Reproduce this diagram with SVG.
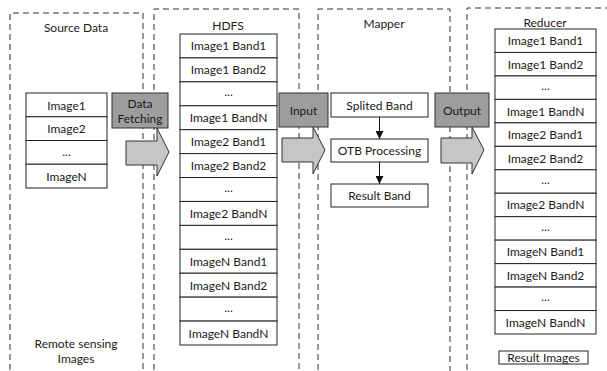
<svg xmlns="http://www.w3.org/2000/svg" width="607" height="371" viewBox="0 0 607 371">
  <style>
    text { font-family: Lato, "Open Sans", "Liberation Sans", sans-serif; font-size: 12px; fill: #1a1a1a; text-anchor: middle; dominant-baseline: central; }
    .zone { fill: none; stroke: #333; stroke-width: 1; stroke-dasharray: 6 4; }
    .cell { fill: #fff; stroke: #222; stroke-width: 1; }
    .tag { fill: #9d9d9d; stroke: #333; stroke-width: 1; }
    .flow { fill: #c6c6c6; stroke: #333; stroke-width: 1; }
    .link { stroke: #111; stroke-width: 1; fill: none; }
  </style>
  <defs>
    <marker id="tri" viewBox="0 0 10 10" refX="10" refY="5" markerWidth="8" markerHeight="8" markerUnits="userSpaceOnUse" orient="auto">
      <path d="M0,0 L10,5 L0,10 z" fill="#111"/>
    </marker>
  </defs>

  <rect width="607" height="371" fill="#fff"/>

  <!-- dashed zones, open at the bottom -->
  <g id="zones">
    <path class="zone" d="M10,380 V13 H143 V380"/>
    <path class="zone" d="M154,380 V9 H299 V380"/>
    <path class="zone" d="M318,380 V9 H450 V380"/>
    <path class="zone" d="M467,380 V8 H620"/>
  </g>

  <!-- Source Data -->
  <g id="source">
    <text x="76" y="27">Source Data</text>
    <rect class="cell" x="26" y="93" width="81" height="23.75"/>
    <rect class="cell" x="26" y="116.75" width="81" height="23.75"/>
    <rect class="cell" x="26" y="140.5" width="81" height="23.75"/>
    <rect class="cell" x="26" y="164.25" width="81" height="23.75"/>
    <text x="66.5" y="105">Image1</text>
    <text x="66.5" y="128.5">Image2</text>
    <text x="66.5" y="151">...</text>
    <text x="66.5" y="176">ImageN</text>
    <text x="76" y="343">Remote sensing</text>
    <text x="76" y="358">Images</text>
  </g>

  <!-- HDFS -->
  <g id="hdfs">
    <text x="228" y="25">HDFS</text>
    <g transform="translate(180,34)">
      <rect class="cell" x="0" y="0" width="97" height="23.92"/>
      <rect class="cell" x="0" y="23.92" width="97" height="23.92"/>
      <rect class="cell" x="0" y="47.85" width="97" height="23.92"/>
      <rect class="cell" x="0" y="71.77" width="97" height="23.92"/>
      <rect class="cell" x="0" y="95.69" width="97" height="23.92"/>
      <rect class="cell" x="0" y="119.62" width="97" height="23.92"/>
      <rect class="cell" x="0" y="143.54" width="97" height="23.92"/>
      <rect class="cell" x="0" y="167.46" width="97" height="23.92"/>
      <rect class="cell" x="0" y="191.38" width="97" height="23.92"/>
      <rect class="cell" x="0" y="215.31" width="97" height="23.92"/>
      <rect class="cell" x="0" y="239.23" width="97" height="23.92"/>
      <rect class="cell" x="0" y="263.15" width="97" height="23.92"/>
      <rect class="cell" x="0" y="287.08" width="97" height="23.92"/>
      <text x="48.5" y="11.96">Image1 Band1</text>
      <text x="48.5" y="35.88">Image1 Band2</text>
      <text x="48.5" y="57.8">...</text>
      <text x="48.5" y="83.73">Image1 BandN</text>
      <text x="48.5" y="107.65">Image2 Band1</text>
      <text x="48.5" y="131.58">Image2 Band2</text>
      <text x="48.5" y="153.5">...</text>
      <text x="48.5" y="179.42">Image2 BandN</text>
      <text x="48.5" y="201.35">...</text>
      <text x="48.5" y="227.27">ImageN Band1</text>
      <text x="48.5" y="251.19">ImageN Band2</text>
      <text x="48.5" y="273.1">...</text>
      <text x="48.5" y="299.04">ImageN BandN</text>
    </g>
  </g>

  <!-- Mapper -->
  <g id="mapper">
    <text x="384" y="23">Mapper</text>
    <rect class="cell" x="331" y="93" width="97" height="24"/>
    <text x="379.5" y="105">Splited  Band</text>
    <rect class="cell" x="331" y="139" width="97" height="23"/>
    <text x="379.5" y="150.5">OTB Processing</text>
    <rect class="cell" x="331" y="184" width="97" height="23"/>
    <text x="379.5" y="195.5">Result Band</text>
  </g>

  <!-- Reducer -->
  <g id="reducer">
    <text x="545" y="22">Reducer</text>
    <g transform="translate(495,29)">
      <rect class="cell" x="0" y="0" width="101" height="23.46"/>
      <rect class="cell" x="0" y="23.46" width="101" height="23.46"/>
      <rect class="cell" x="0" y="46.92" width="101" height="23.46"/>
      <rect class="cell" x="0" y="70.38" width="101" height="23.46"/>
      <rect class="cell" x="0" y="93.85" width="101" height="23.46"/>
      <rect class="cell" x="0" y="117.31" width="101" height="23.46"/>
      <rect class="cell" x="0" y="140.77" width="101" height="23.46"/>
      <rect class="cell" x="0" y="164.23" width="101" height="23.46"/>
      <rect class="cell" x="0" y="187.69" width="101" height="23.46"/>
      <rect class="cell" x="0" y="211.15" width="101" height="23.46"/>
      <rect class="cell" x="0" y="234.62" width="101" height="23.46"/>
      <rect class="cell" x="0" y="258.08" width="101" height="23.46"/>
      <rect class="cell" x="0" y="281.54" width="101" height="23.46"/>
      <text x="50.5" y="11.73">Image1 Band1</text>
      <text x="50.5" y="35.19">Image1 Band2</text>
      <text x="50.5" y="56.65">...</text>
      <text x="50.5" y="82.11">Image1 BandN</text>
      <text x="50.5" y="105.58">Image2 Band1</text>
      <text x="50.5" y="129.04">Image2 Band2</text>
      <text x="50.5" y="150.5">...</text>
      <text x="50.5" y="175.96">Image2 BandN</text>
      <text x="50.5" y="197.42">...</text>
      <text x="50.5" y="222.88">ImageN Band1</text>
      <text x="50.5" y="246.35">ImageN Band2</text>
      <text x="50.5" y="267.8">...</text>
      <text x="50.5" y="293.27">ImageN BandN</text>
    </g>
    <rect class="cell" x="499" y="351" width="89" height="13"/>
    <text x="543.5" y="357.5">Result Images</text>
  </g>

  <!-- transfer steps between zones -->
  <g id="connectors">
    <path class="flow" d="M126,141 H157 V128 L169,152 L157,176 V165 H126 Z"/>
    <path class="flow" d="M282,138 H313 V127 L325,150 L313,174 V162 H282 Z"/>
    <path class="flow" d="M441,138 H472 V127 L484,150 L472,174 V163 H441 Z"/>
    <line class="link" x1="379.5" y1="117" x2="379.5" y2="139" marker-end="url(#tri)"/>
    <line class="link" x1="379.5" y1="162" x2="379.5" y2="184" marker-end="url(#tri)"/>
  </g>

  <g id="fetching">
    <rect class="tag" x="112" y="93" width="56" height="35"/>
    <text x="140" y="103.5">Data</text>
    <text x="140" y="118">Fetching</text>
  </g>
  <g id="input">
    <rect class="tag" x="279" y="93" width="49" height="34"/>
    <text x="303.5" y="110">Input</text>
  </g>
  <g id="output">
    <rect class="tag" x="435" y="93" width="54" height="34"/>
    <text x="462" y="110">Output</text>
  </g>
</svg>
